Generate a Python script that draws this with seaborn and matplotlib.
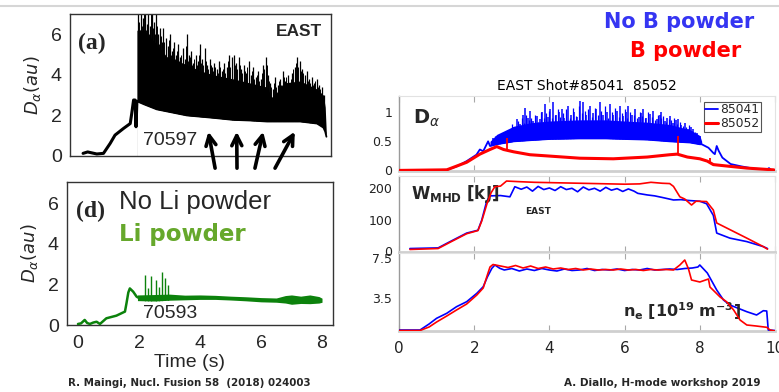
import numpy as np
import matplotlib
matplotlib.use("Agg")
import matplotlib.pyplot as plt
from matplotlib.lines import Line2D
import seaborn as sns

# ---------------- data ----------------
# (a) shot 70597, no Li powder: D-alpha (au) vs time (s)
a_pre_t = [0.0, 0.15, 0.3, 0.45, 0.67, 0.89, 1.05, 1.33, 1.55, 1.6, 1.66, 1.71, 1.74, 1.77]
a_pre_v = [0.13, 0.2, 0.15, 0.1, 0.13, 0.62, 1.03, 1.36, 1.6, 2.1, 2.76, 2.76, 1.44, 2.7]
a_env_t = [1.77, 2.0, 2.42, 2.75, 3.41, 3.85, 4.29, 4.94, 5.49, 6.04, 6.2, 6.35, 6.59, 7.14, 7.69, 7.9, 7.96, 8.0]
a_low = [2.7, 2.55, 2.3, 2.2, 2.0, 1.94, 1.88, 1.78, 1.75, 1.7, 1.7, 1.7, 1.7, 1.7, 1.6, 1.4, 1.2, 0.95]
a_high = [6.2, 6.2, 5.5, 4.9, 4.5, 4.2, 4.0, 3.8, 3.6, 3.4, 2.9, 3.1, 3.6, 3.7, 3.3, 3.0, 2.4, 1.0]
# large ELM spikes
a_spk_t = [1.82, 1.86, 1.92, 1.97, 2.03, 2.09, 2.15, 2.21, 2.27, 2.33,
           2.39, 2.45, 2.52, 2.58, 2.64, 2.71, 2.78, 2.85, 2.92, 2.99,
           3.06, 3.13, 3.20, 3.27, 3.34, 3.41, 3.48, 3.55, 3.62, 3.70,
           3.78, 3.85, 3.92, 4.00, 4.08, 4.16, 4.24, 4.32, 4.40, 4.48,
           4.56, 4.64, 4.72, 4.80, 4.88, 4.96, 5.04, 5.12, 5.20, 5.28,
           5.36, 5.44, 5.52, 5.60, 5.68, 5.76, 5.84, 5.92, 6.00, 6.08,
           6.16, 6.24, 6.32, 6.40, 6.48, 6.56, 6.64, 6.72, 6.80, 6.88,
           6.96, 7.04, 7.12, 7.20, 7.28, 7.36, 7.44, 7.52, 7.60, 7.68,
           7.76, 7.84, 7.92]
a_spk_v = [7.0, 6.2, 7.0, 6.8, 7.0, 6.5, 7.0, 6.4, 7.0, 6.6,
           7.0, 6.0, 6.3, 5.6, 6.3, 5.8, 5.4, 6.0, 5.2, 5.6,
           5.0, 5.5, 4.9, 5.3, 4.8, 6.0, 5.0, 5.2, 4.6, 5.0,
           4.7, 5.5, 4.8, 5.3, 4.5, 4.8, 4.4, 4.6, 4.3, 4.7,
           4.2, 4.6, 4.4, 5.0, 4.9, 5.0, 4.6, 4.9, 4.3, 4.5,
           4.1, 4.7, 4.0, 4.4, 3.9, 4.2, 3.8, 4.5, 4.9, 4.0,
           3.6, 3.3, 3.9, 3.5, 3.8, 4.2, 3.7, 4.0, 3.6, 4.1,
           4.4, 4.9, 4.7, 4.3, 4.0, 4.2, 3.8, 3.9, 3.6, 3.8,
           3.5, 3.4, 3.0]
# smaller ELM spikes in between
a_min_t = [1.83, 1.89, 1.95, 2.00, 2.06, 2.12, 2.18, 2.24, 2.30, 2.36,
           2.42, 2.48, 2.55, 2.61, 2.67, 2.74, 2.81, 2.88, 2.95, 3.02,
           3.09, 3.16, 3.23, 3.30, 3.37, 3.44, 3.51, 3.58, 3.65, 3.73,
           3.81, 3.88, 3.95, 4.03, 4.11, 4.19, 4.27, 4.35, 4.43, 4.51,
           4.59, 4.67, 4.75, 4.83, 4.91, 4.99, 5.07, 5.15, 5.23, 5.31,
           5.39, 5.47, 5.55, 5.63, 5.71, 5.79, 5.87, 5.95, 6.03, 6.11,
           6.19, 6.27, 6.35, 6.43, 6.51, 6.59, 6.67, 6.75, 6.83, 6.91,
           6.99, 7.07, 7.15, 7.23, 7.31, 7.39, 7.47, 7.55, 7.63, 7.71,
           7.79, 7.87]
a_min_v = [6.6, 7.0, 6.4, 7.0, 6.2, 6.8, 6.0, 7.0, 6.3, 6.0,
           6.4, 5.5, 5.9, 5.2, 5.6, 5.1, 5.7, 5.0, 5.3, 4.8,
           5.2, 4.7, 5.0, 4.6, 5.4, 4.7, 4.9, 4.5, 4.8, 4.5,
           5.0, 4.6, 4.5, 4.7, 4.3, 4.5, 4.2, 4.4, 4.1, 4.4,
           4.3, 4.1, 4.7, 4.4, 4.6, 4.5, 4.3, 4.5, 4.1, 4.2,
           4.4, 3.9, 4.2, 3.8, 4.0, 3.7, 4.1, 4.3, 4.5, 3.7,
           3.4, 3.6, 3.4, 3.7, 3.5, 3.9, 3.9, 3.6, 3.8, 4.3,
           4.6, 4.4, 4.2, 4.1, 3.9, 3.7, 3.6, 3.5, 3.7, 3.4,
           3.3, 3.1]
# arrows pointing at the ELM-free gaps
arrow_head_t = [4.12, 5.05, 5.92, 6.96]
arrow_tail_t = [4.34, 5.06, 5.65, 6.31]

# (d) shot 70593, with Li powder
d_pre_t = [0.0, 0.1, 0.22, 0.3, 0.39, 0.5, 0.61, 0.72, 0.93, 1.26, 1.54, 1.59, 1.65, 1.7, 1.81, 1.92, 1.97]
d_pre_v = [0.05, 0.08, 0.25, 0.1, 0.05, 0.12, 0.16, 0.05, 0.33, 0.46, 0.66, 1.07, 1.6, 1.8, 1.64, 1.4, 1.35]
d_band_t = [1.95, 2.5, 3.0, 3.5, 4.0, 4.5, 5.0, 5.5, 6.0, 6.5, 6.8, 7.0, 7.3, 7.6, 7.9, 8.0]
d_band_low = [1.2, 1.18, 1.22, 1.24, 1.26, 1.26, 1.23, 1.19, 1.14, 1.12, 1.08, 1.02, 1.06, 1.05, 1.08, 1.12]
d_band_high = [1.48, 1.5, 1.52, 1.47, 1.48, 1.46, 1.42, 1.39, 1.35, 1.33, 1.45, 1.48, 1.42, 1.48, 1.4, 1.32]
d_spk_t = [2.19, 2.30, 2.41, 2.57, 2.65, 2.74, 2.85, 2.96]
d_spk_v = [2.46, 1.8, 2.41, 2.2, 1.85, 2.62, 2.3, 1.97]

# EAST shots 85041 (no B powder) and 85052 (B powder)
shots = ["85041", "85052"]
# D-alpha, shot 85041
da_b_pre_t = [0.0, 1.27, 1.54, 1.8, 2.06, 2.15, 2.24, 2.37, 2.42]
da_b_pre_v = [0.0, 0.01, 0.07, 0.16, 0.27, 0.36, 0.33, 0.5, 0.42]
da_b_env_t = [2.42, 2.6, 3.05, 3.5, 4.0, 4.8, 5.5, 6.0, 6.6, 7.2, 7.74, 8.0, 8.05]
da_b_low = [0.42, 0.45, 0.5, 0.52, 0.54, 0.55, 0.55, 0.54, 0.53, 0.5, 0.48, 0.45, 0.45]
da_b_high = [0.5, 0.62, 0.76, 0.82, 0.85, 0.87, 0.87, 0.85, 0.83, 0.79, 0.7, 0.6, 0.5]
da_b_tail_t = [8.05, 8.23, 8.36, 8.4, 8.45, 8.5, 8.6, 8.82, 9.1, 9.44, 9.8, 9.84, 9.9, 10.0]
da_b_tail_v = [0.45, 0.39, 0.3, 0.28, 0.42, 0.34, 0.22, 0.11, 0.07, 0.03, 0.02, 0.04, 0.0, 0.0]
da_b_spk_t = [2.50, 2.62, 2.75, 2.86, 2.98, 3.05, 3.13, 3.22, 3.30, 3.35,
              3.42, 3.48, 3.56, 3.66, 3.74, 3.81, 3.88, 3.95, 4.02, 4.10,
              4.18, 4.25, 4.33, 4.40, 4.50, 4.58, 4.66, 4.74, 4.81, 4.90,
              4.98, 5.08, 5.16, 5.25, 5.34, 5.42, 5.52, 5.61, 5.70, 5.79,
              5.88, 5.96, 6.03, 6.10, 6.19, 6.28, 6.37, 6.44, 6.50, 6.58,
              6.67, 6.76, 6.85, 6.93, 6.98, 7.07, 7.14, 7.20, 7.28, 7.36,
              7.43, 7.51, 7.60, 7.68, 7.76, 7.83, 7.92, 8.00]
da_b_spk_v = [0.56, 0.6, 0.55, 0.56, 0.7, 0.75, 0.88, 0.8, 0.95, 1.08,
              0.9, 1.02, 0.85, 0.93, 0.88, 1.0, 1.14, 0.92, 1.05, 1.17,
              0.95, 1.0, 1.05, 0.9, 1.11, 0.95, 1.0, 0.92, 1.19, 1.17,
              0.95, 1.11, 0.98, 1.05, 1.17, 0.96, 1.0, 1.14, 0.95, 1.02,
              1.11, 0.93, 1.0, 1.11, 0.95, 1.05, 0.92, 0.98, 1.05, 0.9,
              0.97, 1.02, 0.88, 0.95, 1.0, 0.85, 0.9, 0.93, 0.82, 0.86,
              0.88, 0.78, 0.82, 0.72, 0.74, 0.71, 0.64, 0.6]
da_b_min_t = [2.56, 2.68, 2.80, 2.92, 3.01, 3.09, 3.17, 3.26, 3.33, 3.38,
              3.45, 3.52, 3.61, 3.70, 3.78, 3.85, 3.92, 3.99, 4.06, 4.14,
              4.22, 4.29, 4.37, 4.45, 4.54, 4.62, 4.70, 4.78, 4.86, 4.94,
              5.03, 5.12, 5.21, 5.30, 5.38, 5.47, 5.57, 5.66, 5.75, 5.84,
              5.92, 6.00, 6.07, 6.15, 6.24, 6.33, 6.41, 6.47, 6.54, 6.63,
              6.72, 6.81, 6.89, 6.96, 7.03, 7.11, 7.17, 7.24, 7.32, 7.40,
              7.47, 7.56, 7.64, 7.72, 7.80, 7.88, 7.96]
da_b_min_v = [0.6, 0.58, 0.62, 0.66, 0.8, 0.72, 0.85, 0.9, 0.82, 0.95,
              0.86, 0.9, 0.96, 0.84, 1.0, 0.9, 0.98, 1.02, 0.9, 0.96,
              1.05, 0.92, 0.98, 1.06, 0.9, 1.08, 0.94, 1.1, 0.98, 1.02,
              1.05, 0.92, 1.08, 0.95, 1.02, 1.1, 0.9, 1.0, 1.08, 0.92,
              0.98, 1.06, 0.9, 1.0, 0.95, 0.9, 1.0, 0.94, 0.9, 1.0,
              0.92, 0.86, 0.96, 0.9, 0.94, 0.84, 0.88, 0.86, 0.9, 0.8,
              0.84, 0.76, 0.74, 0.78, 0.68, 0.66, 0.58]
# D-alpha, shot 85052
da_r_t = [0.0, 1.27, 1.8, 2.15, 2.42, 2.6, 2.78, 3.05, 3.48, 3.93, 4.81, 5.7,
          6.6, 7.2, 7.4, 7.67, 8.0, 8.2, 8.36, 8.8, 9.25, 9.96, 10.0]
da_r_v = [0.0, 0.01, 0.14, 0.28, 0.36, 0.41, 0.36, 0.32, 0.27, 0.25, 0.21, 0.2,
          0.23, 0.27, 0.28, 0.23, 0.2, 0.16, 0.1, 0.07, 0.04, 0.01, 0.0]
da_r_spk_t = [2.86, 7.42, 8.27]
da_r_spk_base = [0.34, 0.28, 0.14]
da_r_spk_v = [0.56, 0.6, 0.22]

# W_MHD (kJ)
wb_t = [0.29, 1.04, 1.36, 1.8, 2.1, 2.2, 2.33, 2.42, 2.7, 2.95, 3.08, 3.25, 3.4, 3.55,
        3.7, 3.85, 4.0, 4.15, 4.3, 4.45, 4.6, 4.75, 4.9, 5.05, 5.2, 5.35, 5.5, 5.65,
        5.8, 5.95, 6.1, 6.25, 6.35, 6.6, 6.8, 7.0, 7.3, 7.5, 7.74, 8.0, 8.18, 8.36,
        8.45, 8.8, 9.25, 9.69, 9.8]
wb_v = [8, 10, 30, 57, 66, 98, 157, 175, 176, 172, 204, 196, 203, 190,
        205, 195, 200, 192, 204, 195, 199, 188, 203, 194, 199, 190, 202, 193,
        198, 189, 197, 190, 183, 178, 175, 170, 162, 163, 160, 158, 150, 113,
        57, 41, 30, 14, 8]
wr_t = [0.29, 1.04, 1.36, 1.8, 2.1, 2.2, 2.34, 2.45, 2.55, 2.7, 2.86, 3.2, 3.6, 4.0,
        4.4, 4.8, 5.2, 5.6, 6.0, 6.4, 6.7, 7.0, 7.2, 7.3, 7.47, 7.6, 7.78, 7.9, 8.18,
        8.36, 8.45, 8.8, 9.25, 9.69, 9.8]
wr_v = [5, 8, 28, 55, 65, 95, 150, 185, 204, 206, 222, 220, 218, 217,
        216, 215, 214, 213, 212, 213, 218, 215, 214, 205, 172, 165, 146, 158, 157,
        130, 89, 68, 41, 14, 6]

# n_e (1e19 m^-3)
ne_b_t = [0.0, 0.56, 0.8, 1.0, 1.27, 1.53, 1.8, 2.07, 2.24, 2.35, 2.47, 2.55, 2.68,
          2.8, 3.0, 3.2, 3.4, 3.6, 3.8, 4.0, 4.2, 4.4, 4.6, 4.8, 5.0, 5.2, 5.4, 5.6,
          5.8, 6.0, 6.2, 6.4, 6.6, 6.8, 7.0, 7.2, 7.4, 7.6, 7.8, 7.95, 8.0, 8.2,
          8.45, 8.63, 8.8, 9.25, 9.51, 9.69, 9.78, 9.82, 10.0]
ne_b_v = [0.3, 0.3, 0.9, 1.47, 1.97, 2.63, 3.13, 3.97, 4.63, 5.6, 6.47, 6.8, 6.47,
          6.3, 6.45, 6.2, 6.4, 6.25, 6.45, 6.3, 6.2, 6.4, 6.25, 6.3, 6.45, 6.25, 6.35, 6.3,
          6.4, 6.25, 6.35, 6.3, 6.45, 6.3, 6.35, 6.4, 6.35, 6.45, 6.5, 6.6, 6.8, 6.0,
          4.3, 3.3, 2.8, 2.13, 1.8, 2.23, 2.2, 0.3, 0.25]
ne_r_t = [0.0, 0.56, 0.8, 1.0, 1.27, 1.53, 1.8, 2.07, 2.24, 2.35, 2.42, 2.5, 2.7,
          2.9, 3.1, 3.3, 3.5, 3.7, 3.9, 4.1, 4.3, 4.5, 4.7, 4.9, 5.1, 5.3, 5.5, 5.7,
          5.9, 6.1, 6.3, 6.5, 6.7, 6.9, 7.1, 7.3, 7.47, 7.6, 7.7, 7.78, 8.0, 8.23,
          8.27, 8.54, 8.72, 8.9, 9.07, 9.25, 9.5, 9.78, 9.87, 10.0]
ne_r_v = [0.25, 0.25, 0.6, 1.1, 1.7, 2.3, 2.9, 3.8, 4.5, 5.8, 6.6, 6.85, 6.7,
          6.55, 6.75, 6.5, 6.7, 6.45, 6.6, 6.4, 6.5, 6.35, 6.45, 6.3, 6.4, 6.3, 6.35, 6.3,
          6.4, 6.3, 6.35, 6.25, 6.35, 6.3, 6.35, 6.3, 6.8, 7.3, 6.4, 5.3, 5.1, 5.4,
          4.6, 3.6, 3.1, 2.3, 1.3, 0.8, 0.7, 0.57, 0.3, 0.2]

left_xticks = [0, 2, 4, 6, 8]
left_yticks = [0, 2, 4, 6]
right_xticks = [0, 2, 4, 6, 8, 10]

# ---------------- styling ----------------
sns.set_style("white")
plt.rcParams["font.family"] = ["DejaVu Sans"]
plt.rcParams["mathtext.fontset"] = "dejavusans"

W, H = 779, 392
fig = plt.figure(figsize=(W / 100, H / 100), dpi=100)
fig.patch.set_facecolor("white")


def rect(l, t, r, b):
    return [l / W, 1 - b / H, (r - l) / W, (b - t) / H]


def ftext(x, y, s, **kw):
    fig.text(x / W, 1 - y / H, s, **kw)


def line(ax, x, y, color, lw, z=3, label=None):
    sns.lineplot(x=x, y=y, ax=ax, color=color, lw=lw, sort=False,
                 estimator=None, zorder=z, label=label, legend=False)


LEFT_FONT = "Liberation Sans"
BLUE, RED = "#0000ff", "#ff0000"
GREEN = "#0c820c"

# separator line across the top
fig.add_artist(Line2D([0, 1], [1 - 6 / H] * 2, transform=fig.transFigure,
                      color="#d6d6d6", lw=1.5))


def style_left(ax, xlabels):
    for s in ax.spines.values():
        s.set_color("#333333")
        s.set_linewidth(1.0)
    ax.set_xticks(left_xticks)
    ax.set_yticks(left_yticks)
    ax.tick_params(axis="both", direction="out", length=4, width=1,
                   color="#333333", labelsize=14, pad=2)
    ax.tick_params(axis="x", labelbottom=xlabels, length=5)
    for lab in ax.get_xticklabels() + ax.get_yticklabels():
        lab.set_fontfamily(LEFT_FONT)
    ax.set_ylabel(r"$D_{\alpha}(au)$", fontsize=13)


# ---------- panel (a) ----------
ax_a = fig.add_axes(rect(70, 14, 331, 156))
ax_a.set_xlim(-0.43, 8.15)
ax_a.set_ylim(0, 7.0)
ax_a.vlines(a_spk_t, 0, a_spk_v, color="black", lw=0.9, zorder=2)
ax_a.vlines(a_min_t, 0, a_min_v, color="black", lw=0.7, zorder=2)
ax_a.fill_between(a_env_t, 0, a_low, color="white", lw=0, zorder=2.1)
ax_a.fill_between(a_env_t, a_low, a_high, color="black", lw=0, zorder=2.2)
line(ax_a, a_pre_t, a_pre_v, "black", 2.2)
line(ax_a, a_env_t, a_low, "black", 1.3)
style_left(ax_a, False)
ax_a.yaxis.set_label_coords(-0.104, 0.5)
for ht, tt in zip(arrow_head_t, arrow_tail_t):
    ax_a.annotate("", xy=(ht, 1.2), xytext=(tt, -0.6),
                  arrowprops=dict(arrowstyle="->", lw=2.6, color="black",
                                  mutation_scale=18, shrinkA=0, shrinkB=0),
                  annotation_clip=False, zorder=5)
ftext(78, 43, "(a)", fontsize=17, fontweight="bold", family="Liberation Serif",
      va="center", ha="left")
ftext(322, 32, "EAST", fontsize=12.5, fontweight="bold", family=LEFT_FONT,
      va="center", ha="right")
ftext(143, 141, "70597", fontsize=14, family=LEFT_FONT, va="center", ha="left")

# ---------- panel (d) ----------
ax_d = fig.add_axes(rect(67, 182, 333, 325))
ax_d.set_xlim(-0.36, 8.36)
ax_d.set_ylim(0, 7.04)
ax_d.vlines(d_spk_t, 0, d_spk_v, color=GREEN, lw=1.0, zorder=2)
ax_d.fill_between(d_band_t, 0, d_band_low, color="white", lw=0, zorder=2.1)
ax_d.fill_between(d_band_t, d_band_low, d_band_high, color=GREEN, lw=0, zorder=2.2)
line(ax_d, d_pre_t, d_pre_v, GREEN, 1.8)
style_left(ax_d, True)
ax_d.yaxis.set_label_coords(-0.102, 0.5)
ax_d.set_xlabel("Time (s)", fontsize=14, family=LEFT_FONT, labelpad=2)
ax_d.xaxis.set_label_coords(0.462, -0.2)
ftext(76, 211, "(d)", fontsize=17, fontweight="bold", family="Liberation Serif",
      va="center", ha="left")
ftext(119, 202, "No Li powder", fontsize=18.5, family=LEFT_FONT, va="center", ha="left")
ftext(119, 234, "Li powder", fontsize=16.5, fontweight="bold", color="#66a82c",
      va="center", ha="left")
ftext(143, 313, "70593", fontsize=14, family=LEFT_FONT, va="center", ha="left")
ftext(68, 386, "R. Maingi, Nucl. Fusion 58  (2018) 024003", fontsize=7.4,
      fontweight="bold", va="baseline", ha="left")

# ---------- right column: EAST 85041 / 85052 ----------
ax1 = fig.add_axes(rect(399, 96, 775, 171))
ax2 = fig.add_axes(rect(399, 176, 775, 252))
ax3 = fig.add_axes(rect(399, 253, 775, 331))

for ax in (ax1, ax2, ax3):
    ax.set_xlim(0, 10)
    ax.set_xticks(right_xticks)
    ax.spines["left"].set_color("#9a9a9a")
    ax.spines["left"].set_linewidth(1.0)
    ax.spines["bottom"].set_color("#cfcfcf")
    ax.spines["bottom"].set_linewidth(2.0)
    ax.spines["top"].set_color("#e2e2e2")
    ax.spines["top"].set_linewidth(0.8)
    ax.spines["right"].set_color("#e2e2e2")
    ax.spines["right"].set_linewidth(0.8)
    ax.tick_params(axis="x", direction="in", top=True, bottom=True, length=4,
                   color="#a8a8a8", labelbottom=False)
    ax.tick_params(axis="y", direction="in", length=3, color="#a8a8a8",
                   labelsize=9, labelcolor="#222222", pad=5)

# D-alpha
ax1.set_ylim(-0.01, 1.28)
ax1.set_yticks([0, 0.5, 1])
ax1.set_yticklabels(["0", "0.5", "1"])
ax1.vlines(da_b_spk_t, 0, da_b_spk_v, color=BLUE, lw=1.1, zorder=2)
ax1.vlines(da_b_min_t, 0, da_b_min_v, color=BLUE, lw=0.9, zorder=2)
ax1.fill_between(da_b_env_t, 0, da_b_low, color="white", lw=0, zorder=2.1)
ax1.fill_between(da_b_env_t, da_b_low, da_b_high, color=BLUE, lw=0, zorder=2.2)
line(ax1, da_b_pre_t + da_b_env_t + da_b_tail_t,
     da_b_pre_v + da_b_low + da_b_tail_v, BLUE, 1.3, label=shots[0])
line(ax1, da_r_t, da_r_v, RED, 2.2, z=3.2, label=shots[1])
ax1.vlines(da_r_spk_t, da_r_spk_base, da_r_spk_v, color=RED, lw=1.3, zorder=3.2)
leg = ax1.legend(loc="upper right", bbox_to_anchor=(0.962, 0.92), fontsize=8.8,
                 frameon=True, fancybox=False, framealpha=1, edgecolor="#555555",
                 handlelength=1.0, handletextpad=0.2, borderpad=0.12,
                 labelspacing=0.05, borderaxespad=0)
leg.get_frame().set_linewidth(0.8)
ax1.set_title("EAST Shot#85041  85052", fontsize=10, pad=4, color="black")
ax1.text(0.036, 0.7, r"$\mathbf{D}_{\alpha}$", transform=ax1.transAxes,
         fontsize=14, va="center", ha="left")

# stored energy
ax2.set_ylim(-3, 238)
ax2.set_yticks([0, 100, 200])
line(ax2, wb_t, wb_v, BLUE, 1.2)
line(ax2, wr_t, wr_v, RED, 1.2, z=3.2)
ax2.text(0.033, 0.76, r"$\mathbf{W_{MHD}\ [kJ]}$", transform=ax2.transAxes,
         fontsize=12, va="center", ha="left")
ax2.text(0.37, 0.53, "EAST", transform=ax2.transAxes, fontsize=6.5,
         fontweight="bold", va="center", ha="center")

# density
ax3.set_ylim(0.2, 8.0)
ax3.set_yticks([3.5, 7.5])
line(ax3, ne_b_t, ne_b_v, BLUE, 1.2)
line(ax3, ne_r_t, ne_r_v, RED, 1.2, z=3.2)
ax3.tick_params(axis="x", labelbottom=True, labelsize=11, pad=7,
                labelcolor="#222222")
ax3.set_xlabel("Time (s)", fontsize=10.5, labelpad=2, color="#222222")
ax3.text(0.595, 0.26, r"$\mathbf{n_e\ [10^{19}\ m^{-3}]}$", transform=ax3.transAxes,
         fontsize=11.5, va="center", ha="left")

ftext(604, 28, "No B powder", fontsize=15, fontweight="bold", color="#3535f2",
      va="baseline", ha="left")
ftext(630, 57, "B powder", fontsize=15, fontweight="bold", color=RED,
      va="baseline", ha="left")
ftext(564, 386, "A. Diallo, H-mode workshop 2019", fontsize=7.5,
      fontweight="bold", va="baseline", ha="left")

fig.savefig("out.png", dpi=100)
